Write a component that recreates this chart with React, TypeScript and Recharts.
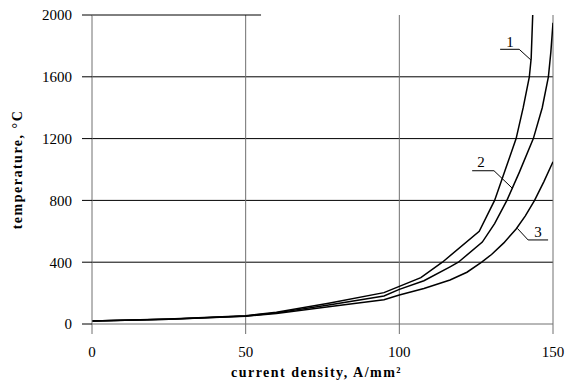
import React from 'react';
import {
  LineChart, Line, XAxis, YAxis, CartesianGrid, ReferenceLine, ReferenceDot, Label,
} from 'recharts';

const xTicks = [0, 50, 100, 150];
const yTicks = [0, 400, 800, 1200, 1600, 2000];

const curve1X = [0, 25, 50, 60, 77, 95, 107, 114, 126, 131, 134.5, 138, 140.3, 142.3, 142.9, 143.4];
const curve1Y = [20, 32, 54, 76, 134, 203, 300, 400, 600, 800, 1000, 1200, 1400, 1600, 1720, 2000];

const curve2X = [0, 25, 50, 60, 77, 95, 100, 108, 116.5, 119.2, 127, 131, 135, 139, 143.6, 146.5, 148.5, 149.3, 150];
const curve2Y = [20, 31, 52, 72, 123, 181, 224, 280, 370, 400, 530, 650, 800, 980, 1200, 1400, 1600, 1760, 1950];

const curve3X = [0, 25, 50, 60, 77, 95, 100, 108, 116.5, 122, 126.8, 130, 134, 138, 141, 144, 147, 150];
const curve3Y = [20, 30, 50, 68, 112, 157, 188, 230, 285, 335, 400, 450, 525, 615, 700, 800, 920, 1050];

const labelNames = ['1', '2', '3'];
const labelTextX = [136.0, 126.6, 145.1];
const labelTextY = [1830, 1050, 595];
const leaderStartX = [132.8, 123.7, 148.4];
const leaderKneeX = [139.0, 130.8, 141.9];
const leaderY = [1778, 992, 544];
const leaderEndX = [142.8, 136.8, 138.4];
const leaderEndY = [1709, 878, 619];

const topLineEnd = 55;

const toPoints = (xs: number[], ys: number[]) => xs.map((x, i) => ({ x, y: ys[i] }));
const data1 = toPoints(curve1X, curve1Y);
const data2 = toPoints(curve2X, curve2Y);
const data3 = toPoints(curve3X, curve3Y);

const FONT = '"Liberation Serif", "Times New Roman", serif';
const GRAY = '#707070';

const YTitle = (props: any) => {
  const vb = props.viewBox || {};
  const cx = (vb.x || 0) + 17;
  const cy = (vb.y || 0) + (vb.height || 0) / 2;
  return (
    <text
      x={cx}
      y={cy}
      transform={`rotate(-90 ${cx} ${cy})`}
      textAnchor="middle"
      dominantBaseline="central"
      fontFamily={FONT}
      fontWeight="bold"
      fontSize={14}
      letterSpacing={1.5}
      fill="#000"
    >
      temperature, °C
    </text>
  );
};

export default function App() {
  return (
    <div style={{ position: 'absolute', left: 0, top: 0, background: '#fff' }}>
      <LineChart
        width={566}
        height={383}
        margin={{ top: 15, right: 13, left: 0, bottom: 0 }}
        style={{ fontFamily: FONT }}
      >
        <CartesianGrid
          horizontal={true}
          vertical={false}
          horizontalValues={[400, 800, 1200, 1600]}
          stroke="#000"
          strokeWidth={1}
        />
        <CartesianGrid
          horizontal={false}
          vertical={true}
          verticalValues={[50, 100, 150]}
          stroke={GRAY}
          strokeWidth={1}
        />
        <XAxis
          type="number"
          dataKey="x"
          domain={[0, 150]}
          ticks={xTicks}
          allowDataOverflow
          height={59}
          tickSize={10}
          tickMargin={12}
          axisLine={{ stroke: GRAY }}
          tickLine={{ stroke: GRAY }}
          tick={{ fill: '#000', fontSize: 15, fontFamily: FONT }}
        >
          <Label
            value="current density, A/mm²"
            position="insideBottom"
            offset={6}
            dx={-6}
            style={{ fontFamily: FONT, fontWeight: 'bold', fontSize: 14, letterSpacing: 1.5, fill: '#000' }}
          />
        </XAxis>
        <YAxis
          type="number"
          dataKey="y"
          domain={[0, 2000]}
          ticks={yTicks}
          allowDataOverflow
          width={92}
          tickSize={10}
          tickMargin={10}
          axisLine={{ stroke: GRAY }}
          tickLine={{ stroke: '#000' }}
          tick={{ fill: '#000', fontSize: 15, fontFamily: FONT }}
        >
          <Label content={<YTitle />} />
        </YAxis>
        <ReferenceLine
          segment={[{ x: 0, y: 2000 }, { x: topLineEnd, y: 2000 }]}
          stroke="#000"
          strokeWidth={1}
          ifOverflow="visible"
        />
        <Line data={data1} dataKey="y" type="linear" stroke="#000" strokeWidth={1.5} dot={false} isAnimationActive={false} />
        <Line data={data2} dataKey="y" type="linear" stroke="#000" strokeWidth={1.5} dot={false} isAnimationActive={false} />
        <Line data={data3} dataKey="y" type="linear" stroke="#000" strokeWidth={1.5} dot={false} isAnimationActive={false} />
        {labelNames.map((name, i) => (
          <ReferenceLine
            key={`h${i}`}
            segment={[{ x: leaderStartX[i], y: leaderY[i] }, { x: leaderKneeX[i], y: leaderY[i] }]}
            stroke="#000"
            strokeWidth={1}
          />
        ))}
        {labelNames.map((name, i) => (
          <ReferenceLine
            key={`d${i}`}
            segment={[{ x: leaderKneeX[i], y: leaderY[i] }, { x: leaderEndX[i], y: leaderEndY[i] }]}
            stroke="#000"
            strokeWidth={1}
          />
        ))}
        {labelNames.map((name, i) => (
          <ReferenceDot
            key={`t${i}`}
            x={labelTextX[i]}
            y={labelTextY[i]}
            r={0}
            fill="none"
            stroke="none"
            label={{ value: name, position: 'center', fill: '#000', fontSize: 15, fontFamily: FONT }}
          />
        ))}
      </LineChart>
    </div>
  );
}
